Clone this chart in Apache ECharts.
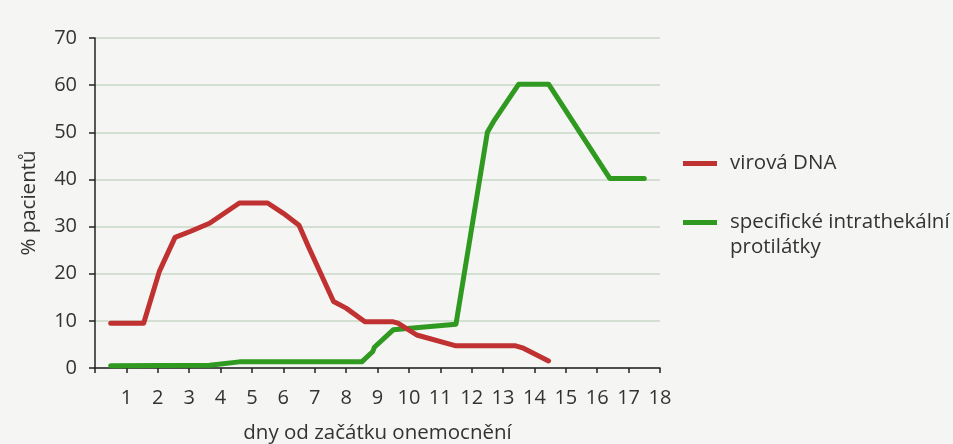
<!DOCTYPE html>
<html>
<head>
<meta charset="utf-8">
<title>virová DNA a protilátky</title>
<script src="https://cdn.jsdelivr.net/npm/echarts@6/dist/echarts.min.js"></script>
<style>
  html, body { margin: 0; padding: 0; background: #f5f5f3; }
  #chart { width: 953px; height: 444px; }
</style>
</head>
<body>
<div id="chart"></div>
<script>
// dny od začátku onemocnění / % pacientů
const dnaDays = [0.5, 1.55, 2.05, 2.55, 3.05, 3.65, 4.6, 5.5, 6.0, 6.5, 6.8, 7.6, 8.0, 8.6, 9.5, 9.65, 10.25, 11.5, 13.4, 13.65, 14.45]
const dnaValues = [9.5, 9.5, 20.5, 27.7, 29, 30.7, 35, 35, 32.8, 30.3, 25.7, 14.1, 12.7, 9.8, 9.8, 9.5, 7, 4.7, 4.7, 4.2, 1.5]

const abDays = [0.5, 3.65, 4.6, 8.5, 8.85, 8.9, 9.5, 11.5, 12.5, 12.7, 13.5, 14.45, 16.4, 17.5]
const abValues = [0.5, 0.6, 1.3, 1.3, 3.5, 4.4, 8.1, 9.3, 50, 52.3, 60.2, 60.2, 40.2, 40.2]

const seriesNames = ['virová DNA', 'specifické intrathekální protilátky']
const xTicks = [0, 18, 1]
const yTicks = [0, 70, 10]

const RED = '#c03232'
const GREEN = '#2f9a1f'
const FONT = 'Open Sans'

const chart = echarts.init(document.getElementById('chart'))

const pairs = (xs, ys) => xs.map((x, i) => [x, ys[i]])

const legendText = { fontSize: 20.5, color: '#333', lineHeight: 25, fontFamily: FONT, padding: [0, 0, 0, 8] }

const option = {
  backgroundColor: '#f5f5f3',
  animation: false,
  textStyle: { fontFamily: FONT },
  grid: { left: 95, right: 293, top: 38, bottom: 76, outerBoundsMode: 'none' },
  legend: [
    {
      data: [seriesNames[0]],
      left: 683,
      top: 151,
      padding: 0,
      icon: 'rect',
      itemWidth: 34,
      itemHeight: 5,
      textStyle: legendText
    },
    {
      data: [seriesNames[1]],
      left: 683,
      top: 185,
      padding: 0,
      icon: 'rect',
      itemWidth: 34,
      itemHeight: 5,
      textStyle: legendText,
      // prázdný první řádek, aby ikona byla u prvního řádku textu
      formatter: () => '\nspecifické intrathekální\nprotilátky'
    }
  ],
  xAxis: {
    type: 'value',
    min: xTicks[0],
    max: xTicks[1],
    interval: xTicks[2],
    name: 'dny od začátku onemocnění',
    nameLocation: 'middle',
    nameGap: 55,
    nameTextStyle: { fontSize: 20.5, color: '#333', fontFamily: FONT },
    axisLine: { lineStyle: { color: '#222', width: 1.5 } },
    axisTick: { show: true, length: 5, lineStyle: { color: '#222', width: 1.5 } },
    axisLabel: {
      fontSize: 20,
      color: '#333',
      margin: 20,
      fontFamily: FONT,
      formatter: (v) => (v === 0 ? '' : String(v))
    },
    splitLine: { show: false }
  },
  yAxis: {
    type: 'value',
    min: yTicks[0],
    max: yTicks[1],
    interval: yTicks[2],
    name: '% pacientů',
    nameLocation: 'middle',
    nameGap: 55,
    nameRotate: 90,
    nameTextStyle: { fontSize: 20.5, color: '#333', fontFamily: FONT },
    axisLine: { show: true, lineStyle: { color: '#222', width: 1.5 } },
    axisTick: { show: true, length: 6, lineStyle: { color: '#222', width: 1.5 } },
    axisLabel: { fontSize: 20, color: '#333', margin: 18, fontFamily: FONT },
    splitLine: { show: true, lineStyle: { color: '#c6d7c6', width: 1.5 } }
  },
  series: [
    {
      name: seriesNames[0],
      type: 'line',
      data: pairs(dnaDays, dnaValues),
      symbol: 'none',
      color: RED,
      lineStyle: { color: RED, width: 5, cap: 'round', join: 'round' },
      z: 3
    },
    {
      name: seriesNames[1],
      type: 'line',
      data: pairs(abDays, abValues),
      symbol: 'none',
      color: GREEN,
      lineStyle: { color: GREEN, width: 5, cap: 'round', join: 'round' },
      z: 2
    }
  ]
}

chart.setOption(option)
window.addEventListener('resize', () => chart.resize())
</script>
</body>
</html>
